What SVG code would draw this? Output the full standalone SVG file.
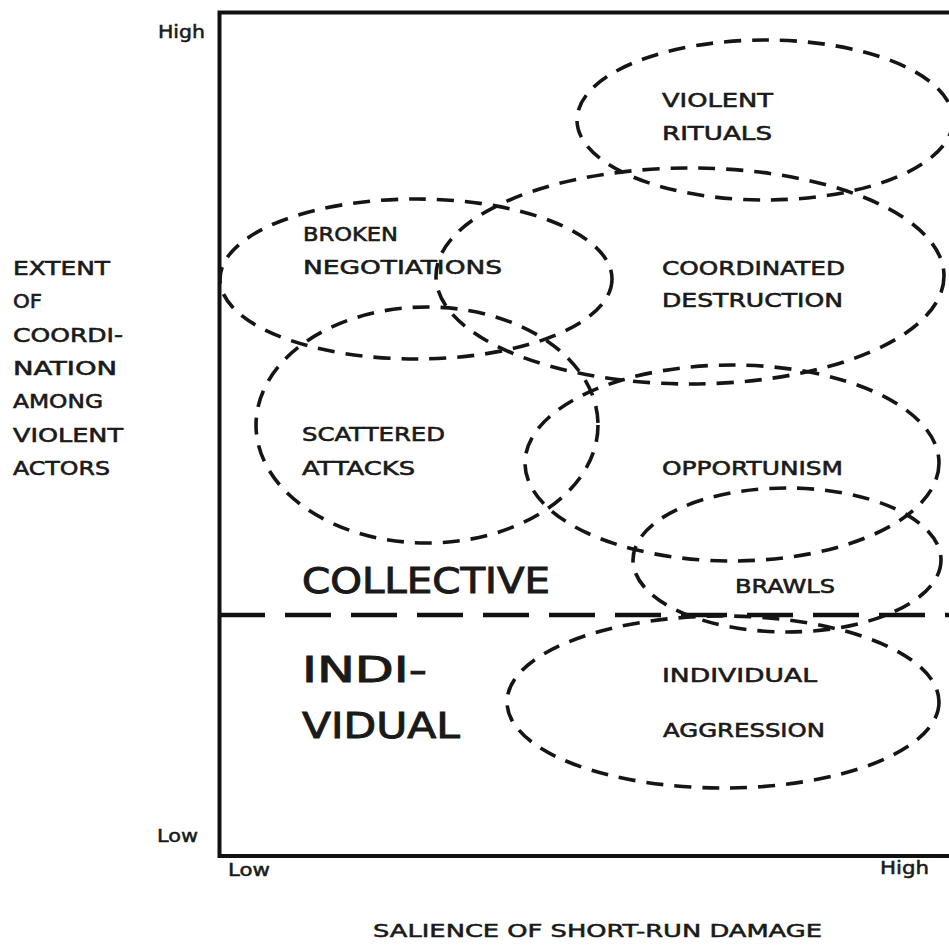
<svg xmlns="http://www.w3.org/2000/svg" width="949" height="950" viewBox="0 0 949 950">
<style>
  text { font-family: "DejaVu Sans", "Liberation Sans", sans-serif; fill: #1a1a1a; stroke: #1a1a1a; stroke-width: 0.6; }
  .lbl { font-size: 20px; }
  .big { font-size: 36px; stroke-width: 1; }
  .ax { font-size: 17px; stroke-width: 0.5; }
  .ell { fill: none; stroke: #151515; stroke-width: 3.6; stroke-dasharray: 17 11; }
  .frame { fill: none; stroke: #111; stroke-width: 4; }
  .divider { stroke: #111; stroke-width: 4.5; stroke-dasharray: 46 20; }
</style>
<rect width="949" height="950" fill="#ffffff"/>
<g id="axes">
  <path class="frame" d="M949,12.5 H219.5 V856 H949"/>
  <line class="divider" x1="219" y1="615" x2="949" y2="615"/>
  <text class="ax" x="158" y="38" textLength="47" lengthAdjust="spacingAndGlyphs">High</text>
  <text class="ax" x="157" y="842" textLength="41" lengthAdjust="spacingAndGlyphs">Low</text>
  <text class="ax" x="228" y="876" textLength="42" lengthAdjust="spacingAndGlyphs">Low</text>
  <text class="ax" x="880" y="874" textLength="49" lengthAdjust="spacingAndGlyphs">High</text>
  <text class="ax" x="373" y="937" textLength="449" lengthAdjust="spacingAndGlyphs">SALIENCE OF SHORT-RUN DAMAGE</text>
</g>
<g id="y-axis-title">
  <text class="lbl" x="13" y="275" textLength="97" lengthAdjust="spacingAndGlyphs">EXTENT</text>
  <text class="lbl" x="13" y="308" textLength="29" lengthAdjust="spacingAndGlyphs">OF</text>
  <text class="lbl" x="13" y="342" textLength="110" lengthAdjust="spacingAndGlyphs">COORDI-</text>
  <text class="lbl" x="13" y="375" textLength="104" lengthAdjust="spacingAndGlyphs">NATION</text>
  <text class="lbl" x="13" y="408" textLength="90" lengthAdjust="spacingAndGlyphs">AMONG</text>
  <text class="lbl" x="13" y="442" textLength="110" lengthAdjust="spacingAndGlyphs">VIOLENT</text>
  <text class="lbl" x="13" y="475" textLength="97" lengthAdjust="spacingAndGlyphs">ACTORS</text>
</g>
<g id="region-labels">
  <text class="big" x="302" y="593" textLength="248" lengthAdjust="spacingAndGlyphs">COLLECTIVE</text>
  <text class="big" x="302" y="682" textLength="125" lengthAdjust="spacingAndGlyphs">INDI-</text>
  <text class="big" x="302" y="738" textLength="158" lengthAdjust="spacingAndGlyphs">VIDUAL</text>
</g>
<g id="violent-rituals">
  <ellipse class="ell" cx="765" cy="120" rx="188" ry="80"/>
  <text class="lbl" x="662" y="107" textLength="111" lengthAdjust="spacingAndGlyphs">VIOLENT</text>
  <text class="lbl" x="662" y="140" textLength="110" lengthAdjust="spacingAndGlyphs">RITUALS</text>
</g>
<g id="broken-negotiations">
  <ellipse class="ell" cx="416" cy="279" rx="196" ry="80"/>
  <text class="lbl" x="303" y="241" textLength="95" lengthAdjust="spacingAndGlyphs">BROKEN</text>
  <text class="lbl" x="303" y="274" textLength="199" lengthAdjust="spacingAndGlyphs">NEGOTIATIONS</text>
</g>
<g id="coordinated-destruction">
  <ellipse class="ell" cx="690" cy="276" rx="254" ry="108"/>
  <text class="lbl" x="662" y="275" textLength="183" lengthAdjust="spacingAndGlyphs">COORDINATED</text>
  <text class="lbl" x="662" y="307" textLength="181" lengthAdjust="spacingAndGlyphs">DESTRUCTION</text>
</g>
<g id="scattered-attacks">
  <ellipse class="ell" cx="427" cy="425" rx="171" ry="118"/>
  <text class="lbl" x="302" y="441" textLength="143" lengthAdjust="spacingAndGlyphs">SCATTERED</text>
  <text class="lbl" x="302" y="475" textLength="113" lengthAdjust="spacingAndGlyphs">ATTACKS</text>
</g>
<g id="opportunism">
  <ellipse class="ell" cx="732" cy="463" rx="207" ry="98"/>
  <text class="lbl" x="662" y="475" textLength="181" lengthAdjust="spacingAndGlyphs">OPPORTUNISM</text>
</g>
<g id="brawls">
  <ellipse class="ell" cx="787" cy="560" rx="154" ry="72"/>
  <text class="lbl" x="735" y="593" textLength="100" lengthAdjust="spacingAndGlyphs">BRAWLS</text>
</g>
<g id="individual-aggression">
  <ellipse class="ell" cx="723" cy="702" rx="216" ry="86"/>
  <text class="lbl" x="662" y="682" textLength="155" lengthAdjust="spacingAndGlyphs">INDIVIDUAL</text>
  <text class="lbl" x="663" y="737" textLength="162" lengthAdjust="spacingAndGlyphs">AGGRESSION</text>
</g>
<g id="connectors"></g>
</svg>
